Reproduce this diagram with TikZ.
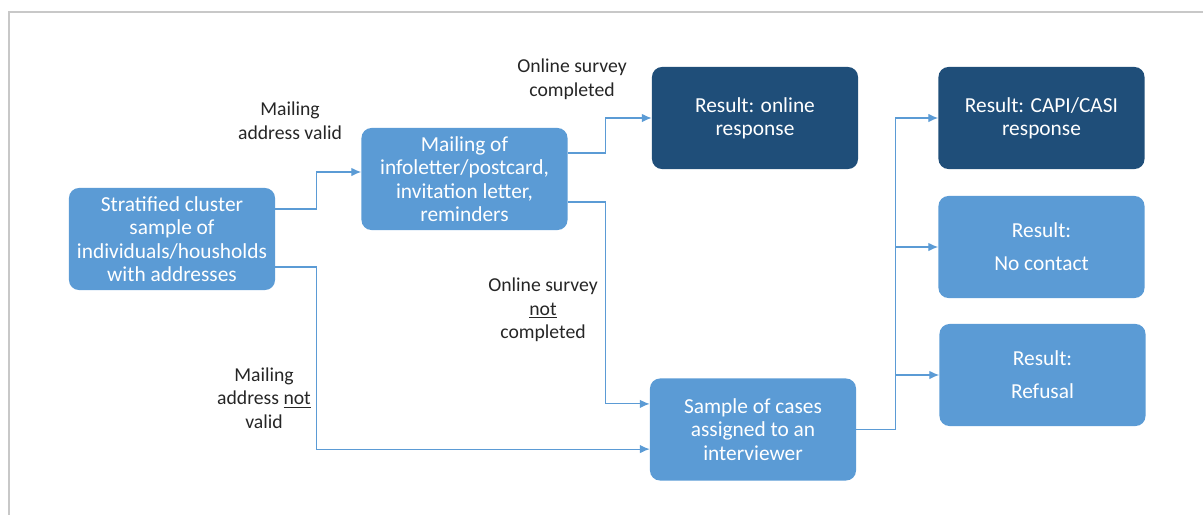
\documentclass[tikz,border=0pt]{standalone}
\usepackage{fontspec}
\setmainfont{Carlito}
\usetikzlibrary{arrows.meta}
\definecolor{lightbox}{HTML}{5B9BD5}
\definecolor{darkbox}{HTML}{1F4E79}
\definecolor{frameline}{HTML}{C8C8C8}
\begin{document}
\begin{tikzpicture}[
    x=0.025cm, y=-0.025cm,
    box/.style={rectangle, rounded corners=0.25cm, fill=lightbox, text=white,
        minimum width=5.15cm, minimum height=2.55cm, align=center,
        font=\fontsize{15.2}{16.6}\selectfont},
    result/.style={box, fill=darkbox},
    flow/.style={draw=lightbox, line width=0.8pt, -{Latex[length=7pt,width=6pt]}},
    lbl/.style={align=center, text=black!85, font=\fontsize{14}{16.8}\selectfont}
]
\useasboundingbox (0,0) rectangle (1203,515);
\draw[frameline, line width=0.8pt] (1203,12) -- (9,12) -- (9,515);

% Kaesten
\node[box] at (172,239) (src) {Stratified cluster\\sample of\\individuals/housholds\\with addresses};
\node[box] at (464.5,179) (mail) {Mailing of\\infoletter/postcard,\\invitation letter,\\reminders};
\node[result] at (755,118) (online) {Result: online\\response};
\node[result] at (1041.5,118) (capi) {Result: CAPI/CASI\\response};
\node[box] at (1041.5,247) (nocontact) {Result:\\[7pt]No contact};
\node[box] at (1042.5,375) (refusal) {Result:\\[7pt]Refusal};
\node[box] at (753,429.5) (sample) {Sample of cases\\assigned to an\\interviewer};

% Beschriftungen
\node[lbl] at (290,121) (valid) {Mailing\\address valid};
\node[lbl] at (572,79) (done) {Online survey\\completed};
\node[lbl] at (543,310) (notdone) {Online survey\\\underline{not}\\completed};
\node[lbl] at (264,398) (invalid) {Mailing\\address \underline{not}\\valid};

% Verbindungspfeile
\draw[flow] ([yshift=0.75cm]src.east) -- ++(41,0) |- ([yshift=0.175cm]mail.west);
\draw[flow] ([yshift=-0.7cm]src.east) -- ++(41,0) |- ([yshift=-0.49cm]sample.west);
\draw[flow] ([yshift=0.65cm]mail.east) -- ++(38,0) |- (online.west);
\draw[flow] ([yshift=-0.575cm]mail.east) -- ++(38,0) |- ([yshift=0.64cm]sample.west);
\draw[flow] (sample.east) -- ++(39,0) coordinate (bus) |- (capi.west);
\draw[flow] (bus) |- (nocontact.west);
\draw[flow] (bus) |- (refusal.west);
\end{tikzpicture}
\end{document}
